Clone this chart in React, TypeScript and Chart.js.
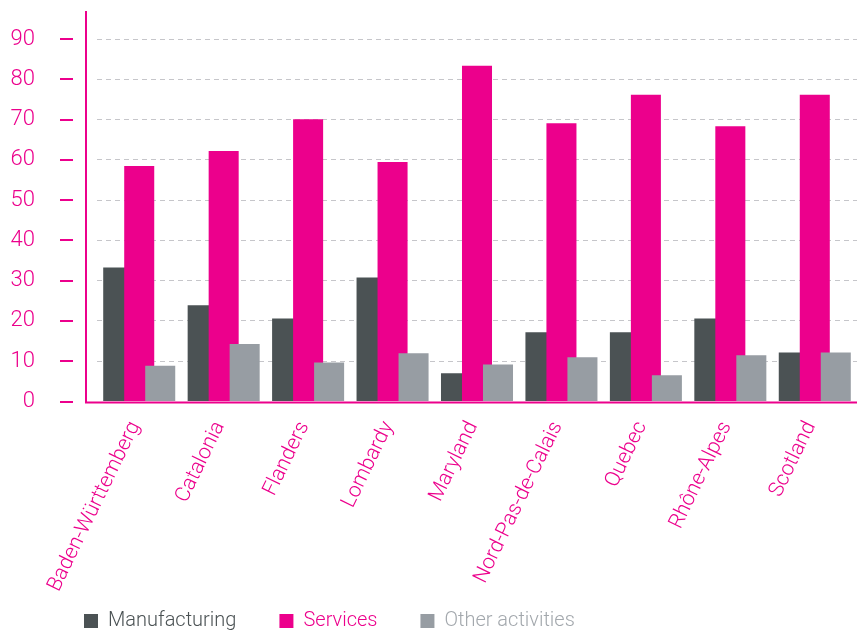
import React, { useEffect, useRef } from 'react';
import { Chart, registerables } from 'chart.js';

Chart.register(...registerables);

const categories = [
  'Baden-Württemberg',
  'Catalonia',
  'Flanders',
  'Lombardy',
  'Maryland',
  'Nord-Pas-de-Calais',
  'Quebec',
  'Rhône-Alpes',
  'Scotland',
];
const manufacturing = [33.3, 23.9, 20.6, 30.8, 7.0, 17.2, 17.2, 20.6, 12.2];
const services = [58.5, 62.2, 70.1, 59.5, 83.4, 69.1, 76.2, 68.4, 76.2];
const otherActivities = [8.9, 14.3, 9.7, 12.0, 9.2, 11.0, 6.5, 11.5, 12.2];
const seriesNames = ['Manufacturing', 'Services', 'Other activities'];
const yTickMax = 90;
const yAxisMax = 97;

const PINK = '#EC008C';
const DARK = '#4B5254';
const LIGHT = '#979DA3';
const LEGEND_TEXT = [DARK, PINK, '#A3A8AD'];
const FONT = 'Roboto, "Helvetica Neue", Arial, sans-serif';

const drawOrderPlugin = {
  id: 'drawOrder',
  beforeDatasetsDraw(chart: any) {
    const { ctx, chartArea } = chart;
    ctx.save();
    ctx.beginPath();
    ctx.rect(chartArea.left, chartArea.top, chartArea.right - chartArea.left, chartArea.bottom - chartArea.top);
    ctx.clip();
    for (let i = 0; i < chart.data.datasets.length; i++) {
      const meta = chart.getDatasetMeta(i);
      if (chart.isDatasetVisible(i)) meta.controller.draw();
    }
    ctx.restore();
    return false;
  },
};

const legendPosPlugin = {
  id: 'legendPos',
  afterLayout(chart: any) {
    const lg = chart.legend;
    if (!lg) return;
    lg.left = chart.chartArea.left - 56;
    lg.top = 568;
  },
};

const axesPlugin = {
  id: 'pinkAxes',
  afterDraw(chart: any) {
    const { ctx, chartArea } = chart;
    const y = chart.scales.y;
    const axisX = chartArea.left - 11;
    const bottom = y.getPixelForValue(0) + 1;
    ctx.save();
    ctx.strokeStyle = PINK;
    ctx.lineWidth = 2;
    ctx.beginPath();
    ctx.moveTo(axisX, y.getPixelForValue(yAxisMax));
    ctx.lineTo(axisX, bottom);
    ctx.stroke();
    ctx.beginPath();
    ctx.moveTo(axisX - 1, bottom);
    ctx.lineTo(chartArea.right, bottom);
    ctx.stroke();
    ctx.beginPath();
    y.ticks.forEach((t: any) => {
      const py = Math.round(y.getPixelForValue(t.value));
      ctx.moveTo(axisX - 26, py);
      ctx.lineTo(axisX - 13, py);
    });
    ctx.stroke();
    ctx.restore();
  },
};

export default function App() {
  const ref = useRef<HTMLCanvasElement>(null);

  useEffect(() => {
    if (!ref.current) return;
    const chart = new Chart(ref.current, {
      type: 'bar',
      data: {
        labels: categories,
        datasets: [
          { label: seriesNames[0], data: manufacturing, backgroundColor: DARK },
          { label: seriesNames[1], data: services, backgroundColor: PINK },
          { label: seriesNames[2], data: otherActivities, backgroundColor: LIGHT },
        ],
      },
      options: {
        responsive: false,
        animation: false,
        datasets: {
          bar: { categoryPercentage: 0.746, barPercentage: 1.43, borderWidth: 0 },
        },
        layout: { padding: { left: 0, right: 0, top: 11, bottom: 0 } },
        scales: {
          x: {
            grid: { display: false, drawTicks: false },
            border: { display: false },
            ticks: {
              color: PINK,
              font: { family: FONT, size: 21, weight: 300 as any },
              minRotation: 64,
              maxRotation: 64,
              autoSkip: false,
              padding: 16,
              labelOffset: -4,
            },
            afterFit(scale: any) {
              scale.height = 200.5;
            },
          },
          y: {
            min: 0,
            max: yAxisMax,
            afterBuildTicks(scale: any) {
              scale.ticks = scale.ticks.filter((t: any) => t.value <= yTickMax && t.value % 10 === 0);
            },
            ticks: {
              stepSize: 10,
              color: PINK,
              padding: 62,
              font: { family: FONT, size: 22, weight: 300 as any, lineHeight: 1 },
            },
            grid: {
              drawTicks: false,
              color: (c: any) => (c.tick && c.tick.value === 0 ? 'rgba(0,0,0,0)' : '#C6C6CA'),
              lineWidth: 1,
            },
            border: { display: false, dash: [5, 4] },
            afterFit(scale: any) {
              scale.width = 97;
              scale.paddingTop = 0;
              scale.paddingBottom = 0;
            },
          },
        },
        plugins: {
          tooltip: { enabled: false },
          legend: {
            position: 'bottom',
            align: 'start',
            maxHeight: 30,
            labels: {
              boxWidth: 14,
              boxHeight: 14,
              padding: 43,
              font: { family: FONT, size: 20, weight: 300 as any },
              generateLabels(chart: any) {
                const items = Chart.defaults.plugins.legend.labels.generateLabels(chart);
                return items.map((it: any, i: number) => ({
                  ...it,
                  lineWidth: 0,
                  strokeStyle: 'rgba(0,0,0,0)',
                  fontColor: LEGEND_TEXT[i],
                }));
              },
            },
          },
        },
      },
      plugins: [drawOrderPlugin, legendPosPlugin, axesPlugin],
    } as any);
    return () => chart.destroy();
  }, []);

  return (
    <div style={{ position: 'absolute', left: 0, top: 0, width: 857, height: 632, background: '#fff' }}>
      <canvas ref={ref} width={857} height={632} />
    </div>
  );
}
